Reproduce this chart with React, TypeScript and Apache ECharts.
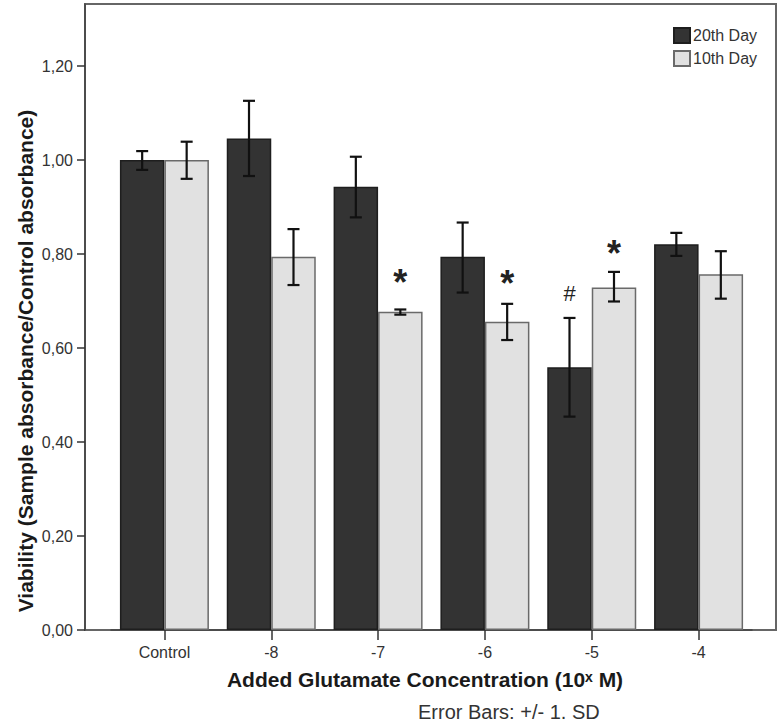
import React, { useEffect, useRef } from "react";
import * as echarts from "echarts";

const categories = ["Control", "-8", "-7", "-6", "-5", "-4"];
const seriesNames = ["20th Day", "10th Day"];
const day20Values = [1.0, 1.046, 0.943, 0.794, 0.559, 0.821];
const day20Low = [0.979, 0.966, 0.878, 0.718, 0.454, 0.796];
const day20High = [1.019, 1.126, 1.007, 0.867, 0.664, 0.845];
const day10Values = [1.0, 0.794, 0.677, 0.656, 0.729, 0.757];
const day10Low = [0.96, 0.734, 0.671, 0.617, 0.699, 0.705];
const day10High = [1.039, 0.853, 0.682, 0.694, 0.762, 0.806];
const day20Marks = ["", "", "", "", "#", ""];
const day20MarkY = [0, 0, 0, 0, 0.715, 0];
const day10Marks = ["", "", "*", "*", "*", ""];
const day10MarkY = [0, 0, 0.757, 0.755, 0.819, 0];
const yTicks = [0, 0.2, 0.4, 0.6, 0.8, 1.0, 1.2];
const yMax = 1.332;

const GAP = 0.167;
const FONT = "'Liberation Sans', Arial, sans-serif";

function errorSeries(side: number, low: number[], high: number[], marks: string[], markY: number[], markStyle: any) {
  return {
    type: "custom",
    silent: true,
    z: 5,
    data: low.map((l, i) => [i, l, high[i], markY[i]]),
    encode: { x: 0, y: [1, 2] },
    renderItem: (params: any, api: any) => {
      const idx = api.value(0);
      const lo = api.value(1);
      const hi = api.value(2);
      const band = api.size([1, 0])[0];
      const bw = (band * (1 - GAP)) / 2;
      const pLo = api.coord([idx, lo]);
      const pHi = api.coord([idx, hi]);
      const x = pLo[0] + (side * bw) / 2;
      const cap = 6;
      const st = { stroke: "#111", lineWidth: 2.2 };
      const children: any[] = [
        { type: "line", shape: { x1: x, y1: pLo[1], x2: x, y2: pHi[1] }, style: st },
        { type: "line", shape: { x1: x - cap, y1: pHi[1], x2: x + cap, y2: pHi[1] }, style: st },
        { type: "line", shape: { x1: x - cap, y1: pLo[1], x2: x + cap, y2: pLo[1] }, style: st },
      ];
      const m = marks[params.dataIndex];
      if (m) {
        const pm = api.coord([idx, api.value(3)]);
        children.push({
          type: "text",
          style: {
            text: m,
            x: x,
            y: pm[1] + markStyle.dy,
            align: "center",
            verticalAlign: "middle",
            fontFamily: FONT,
            fontSize: markStyle.fontSize,
            fontWeight: markStyle.fontWeight,
            fill: "#222",
          },
        });
      }
      return { type: "group", children };
    },
  };
}

export default function App() {
  const ref = useRef<HTMLDivElement>(null);
  useEffect(() => {
    if (!ref.current) return;
    const chart = echarts.init(ref.current, null, { renderer: "svg" });
    chart.setOption({
      animation: false,
      backgroundColor: "#fff",
      textStyle: { fontFamily: FONT },
      grid: { left: 111, right: 30, top: 4, bottom: 94, containLabel: false },
      legend: {
        orient: "vertical",
        left: 668,
        top: 22,
        itemWidth: 16,
        itemHeight: 15,
        itemGap: 6,
        icon: "rect",
        textStyle: { fontSize: 16, color: "#333", fontFamily: FONT, padding: [0, 0, 0, -2] },
        data: seriesNames,
      },
      xAxis: {
        type: "category",
        data: categories,
        axisLine: { show: true, lineStyle: { color: "#444", width: 1.5 } },
        axisTick: { show: true, alignWithLabel: true, length: 10, lineStyle: { color: "#333", width: 1.5 } },
        axisLabel: { margin: 14, fontSize: 16, color: "#333", fontFamily: FONT },
        splitLine: { show: false },
      },
      yAxis: {
        type: "value",
        min: 0,
        max: yMax,
        interval: 0.2,
        offset: 26,
        axisLine: { show: true, lineStyle: { color: "#444", width: 1.5 } },
        axisTick: { show: true, length: 8, customValues: yTicks, lineStyle: { color: "#333", width: 1.5 } },
        axisLabel: {
          margin: 12,
          fontSize: 16,
          color: "#333",
          fontFamily: FONT,
          customValues: yTicks,
          formatter: (v: number) => v.toFixed(2).replace(".", ","),
        },
        splitLine: { show: false },
      },
      graphic: [
        {
          type: "rect",
          silent: true,
          z: 0,
          shape: { x: 85, y: 4, width: 691, height: 626 },
          style: { fill: "none", stroke: "#666", lineWidth: 2 },
        },
        {
          type: "text",
          silent: true,
          x: 25,
          y: 361,
          rotation: Math.PI / 2,
          style: {
            text: "Viability (Sample absorbance/Control absorbance)",
            align: "center",
            verticalAlign: "middle",
            fontFamily: FONT,
            fontSize: 21,
            fontWeight: "bold",
            fill: "#1a1a1a",
          },
        },
        {
          type: "text",
          silent: true,
          x: 425,
          y: 679,
          style: {
            text: "Added Glutamate Concentration (10\u02E3 M)",
            align: "center",
            verticalAlign: "middle",
            fontFamily: FONT,
            fontSize: 21,
            fontWeight: "bold",
            fill: "#1a1a1a",
          },
        },
        {
          type: "text",
          silent: true,
          x: 418,
          y: 712,
          style: {
            text: "Error Bars: +/- 1. SD",
            align: "left",
            verticalAlign: "middle",
            fontFamily: FONT,
            fontSize: 20,
            fill: "#333",
          },
        },
      ],
      series: [
        {
          name: seriesNames[0],
          type: "bar",
          data: day20Values,
          barGap: "0%",
          barCategoryGap: (GAP * 100).toFixed(1) + "%",
          itemStyle: { color: "#333333", borderColor: "#1e1e1e", borderWidth: 1.5 },
          z: 2,
        },
        {
          name: seriesNames[1],
          type: "bar",
          data: day10Values,
          barGap: "0%",
          barCategoryGap: (GAP * 100).toFixed(1) + "%",
          itemStyle: { color: "#e1e1e1", borderColor: "#6a6a6a", borderWidth: 1.5 },
          z: 2,
        },
        errorSeries(-1, day20Low, day20High, day20Marks, day20MarkY, { fontSize: 22, fontWeight: "normal", dy: 0 }),
        errorSeries(1, day10Low, day10High, day10Marks, day10MarkY, { fontSize: 36, fontWeight: "bold", dy: 8 }),
      ],
    });
    return () => chart.dispose();
  }, []);
  return <div ref={ref} style={{ width: 782, height: 724, position: "absolute", left: 0, top: 0 }} />;
}
